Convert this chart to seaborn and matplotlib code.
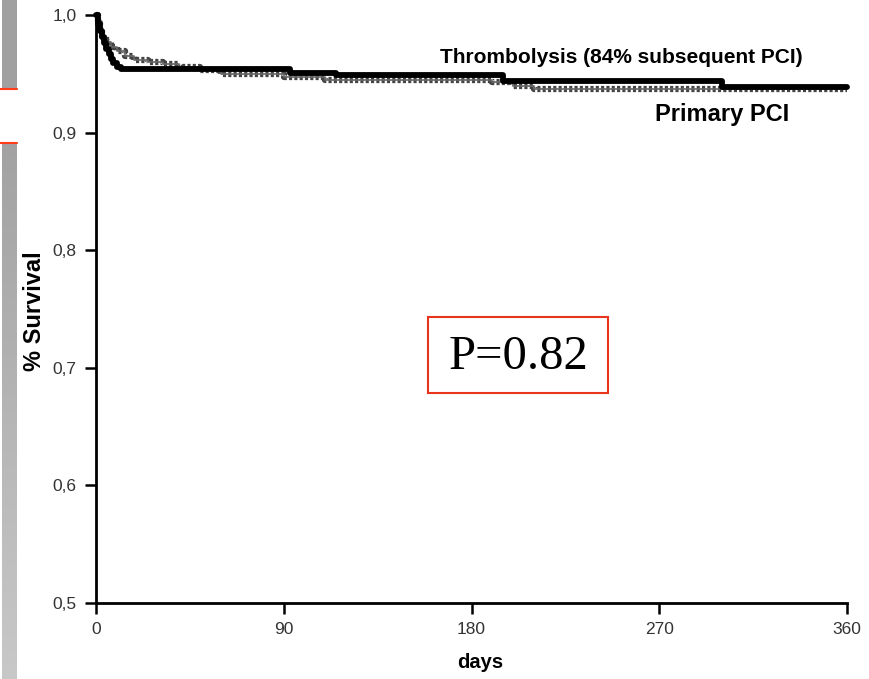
import numpy as np
import pandas as pd
import matplotlib
matplotlib.use("Agg")
import matplotlib.pyplot as plt
import seaborn as sns
from matplotlib.patches import Rectangle

# ---- data ----
thrombo_days = [0, 1, 2, 3, 4, 5, 6, 7, 8, 10, 12, 93, 115, 195, 300, 360]
thrombo_surv = [1.0, 0.992, 0.986, 0.981, 0.976, 0.971, 0.967, 0.963, 0.959, 0.956, 0.954,
                0.951, 0.949, 0.944, 0.939, 0.939]

pci_days = [0, 1, 2, 3, 5, 7, 10, 14, 18, 25, 32, 40, 50, 60, 90, 110, 190, 200, 210, 360]
pci_surv = [1.0, 0.993, 0.987, 0.982, 0.977, 0.973, 0.969, 0.965, 0.962, 0.960, 0.958,
            0.956, 0.953, 0.950, 0.947, 0.945, 0.943, 0.940, 0.937, 0.937]

x_ticks = [0, 90, 180, 270, 360]
y_ticks = [0.5, 0.6, 0.7, 0.8, 0.9, 1.0]
y_tick_labels = ["0,5", "0,6", "0,7", "0,8", "0,9", "1,0"]

label_thrombo = "Thrombolysis (84% subsequent PCI)"
label_pci = "Primary PCI"
p_text = "P=0.82"

df = pd.concat([
    pd.DataFrame({"days": thrombo_days, "surv": thrombo_surv, "group": label_thrombo}),
    pd.DataFrame({"days": pci_days, "surv": pci_surv, "group": label_pci}),
])

sns.set_style("ticks")
plt.rcParams["font.family"] = ["Liberation Sans", "DejaVu Sans"]
plt.rcParams["text.color"] = "black"
plt.rcParams["axes.labelcolor"] = "black"

fig = plt.figure(figsize=(8.69, 6.79), dpi=100)
ax = fig.add_axes([96/869, 1-603/679, (847-96)/869, (603-15)/679])

# primary PCI (dotted comb style)
sub = df[df.group == label_pci]
sns.lineplot(data=sub, x="days", y="surv", ax=ax, drawstyle="steps-post",
             color="#444444", lw=4.5, dashes=False, legend=False, estimator=None,
             linestyle=(0, (0.5, 0.35)))
sns.lineplot(data=sub, x="days", y="surv", ax=ax, drawstyle="steps-post",
             color="#666666", lw=1.2, legend=False, estimator=None)
# thrombolysis (solid thick)
sub = df[df.group == label_thrombo]
sns.lineplot(data=sub, x="days", y="surv", ax=ax, drawstyle="steps-post",
             color="black", lw=4.2, legend=False, estimator=None)

ax.set_xlim(0, 360)
ax.set_ylim(0.5, 1.0)
ax.set_xticks(x_ticks)
ax.set_xticklabels([str(t) for t in x_ticks], fontsize=12.5, color="#333333")
ax.set_yticks(y_ticks)
ax.set_yticklabels(y_tick_labels, fontsize=12.5, color="#333333")
ax.tick_params(axis="both", direction="out", length=8, width=1.8, color="black", pad=6)
for s in ["top", "right"]:
    ax.spines[s].set_visible(False)
for s in ["left", "bottom"]:
    ax.spines[s].set_linewidth(2)
    ax.spines[s].set_color("black")
ax.spines["bottom"].set_bounds(0, 360)
ax.spines["left"].set_bounds(0.5, 1.0)
for ln in ax.lines:
    ln.set_clip_on(False)

ax.set_xlabel("days", fontsize=14.5, fontweight="bold", va="center", color="black")
ax.xaxis.set_label_coords((480-96)/751, (603-663)/588)
ax.set_ylabel("% Survival", fontsize=17, fontweight="bold", va="center", color="black")
ax.yaxis.set_label_coords((35-96)/751, (603-311)/588)

ax.text(252, 0.964, label_thrombo, fontsize=15, fontweight="bold", ha="center", va="center",
        color="black")
ax.text(300, 0.915, label_pci, fontsize=17, fontweight="bold", ha="center", va="center",
        color="black")

# P-value box
red = "#e8341c"
fig.add_artist(Rectangle((428/869, 1-393/679), 180/869, 76/679, transform=fig.transFigure,
                         fill=False, ec=red, lw=1.5))
fig.text(518/869, 1-357/679, p_text, fontsize=35, family="Liberation Serif",
         ha="center", va="center", color="black")

# slide decoration on the left edge
fig.add_artist(Rectangle((2/869, 1-89/679), 15/869, 89/679, transform=fig.transFigure,
                         fc="#a0a0a0", ec="none"))
grad = np.linspace(0, 1, 256).reshape(-1, 1)
gax = fig.add_axes([2/869, 0, 15/869, 1-143/679])
gax.imshow(grad, aspect="auto", cmap=matplotlib.colors.LinearSegmentedColormap.from_list(
    "g", ["#a2a2a2", "#c8c8c8"]), origin="upper")
gax.axis("off")
for yy in (89, 143):
    fig.add_artist(plt.Line2D([0, 17/869], [1-yy/679, 1-yy/679], transform=fig.transFigure,
                              color="#ff3b1a", lw=1.5))

fig.savefig("out.png", dpi=100)
